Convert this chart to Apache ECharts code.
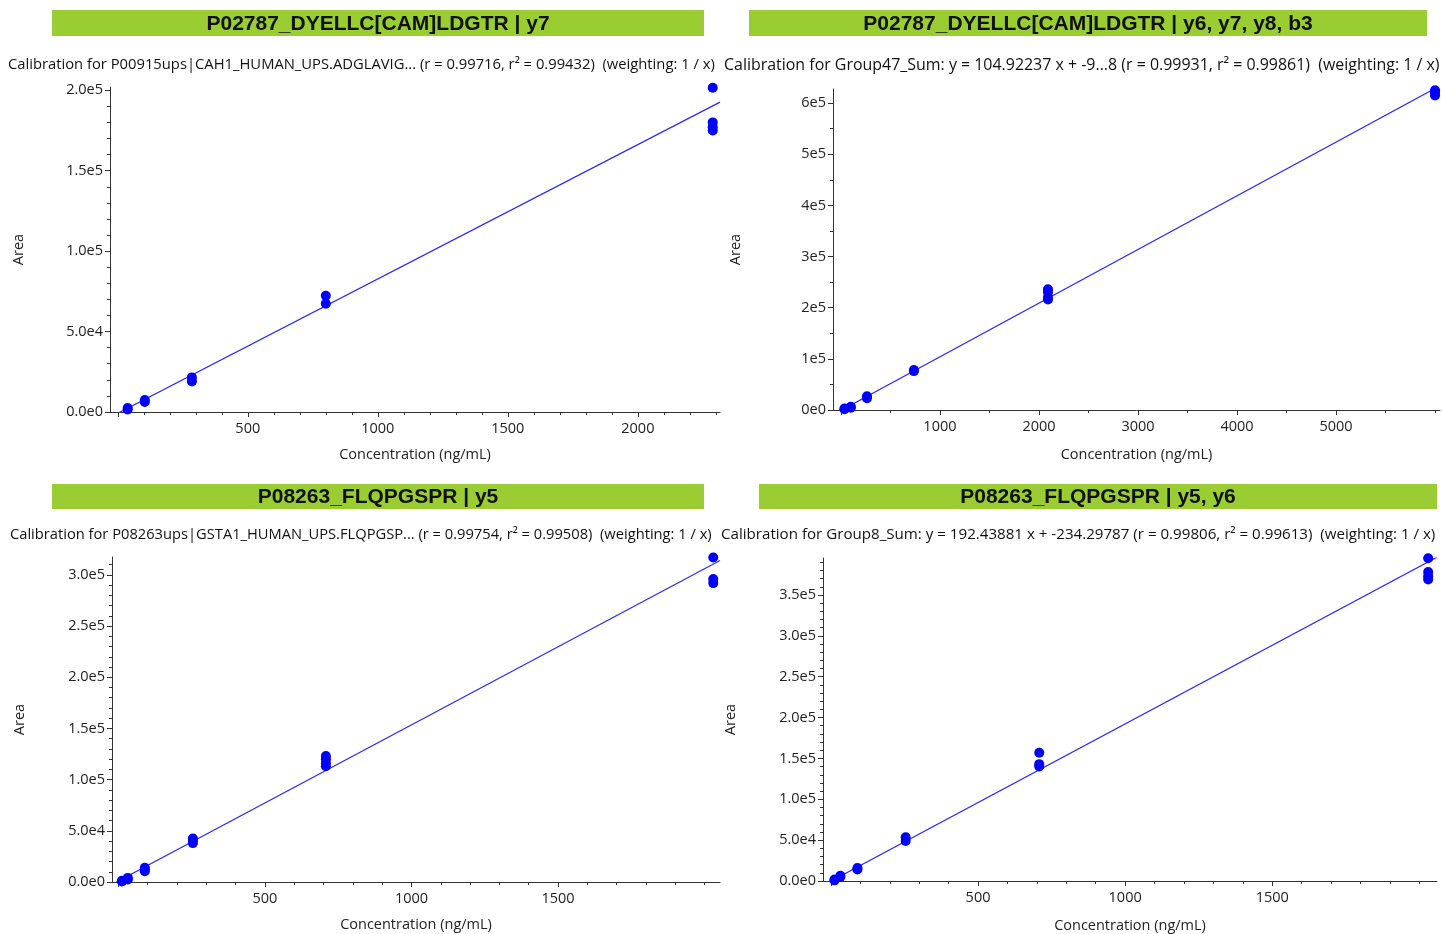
<!DOCTYPE html>
<html><head><meta charset="utf-8">
<script src="https://cdn.jsdelivr.net/npm/echarts@6/dist/echarts.min.js"></script>
<style>html,body{margin:0;padding:0;background:#fff}#c{width:1442px;height:934px}</style>
</head><body><div id="c"></div><script>
// ---------- Panel 1 ----------
const p1Title = 'P02787_DYELLC[CAM]LDGTR | y7';
const p1Sub = 'Calibration for P00915ups|CAH1_HUMAN_UPS.ADGLAVIG... (r = 0.99716, r\u00B2 = 0.99432)  (weighting: 1 / x)';
const p1Conc = [38, 38, 104, 104, 285, 285, 800, 800, 2288, 2288, 2288, 2288];
const p1Area = [1500, 2500, 6200, 7500, 19000, 21500, 67300, 72300, 175000, 177000, 180000, 201500];
const p1Slope = 83.5, p1Intercept = -800;
const p1XTicks = [500, 1000, 1500, 2000];
const p1YTicks = [0, 50000, 100000, 150000, 200000];
const p1YLabels = ['0.0e0', '5.0e4', '1.0e5', '1.5e5', '2.0e5'];

// ---------- Panel 2 ----------
const p2Title = 'P02787_DYELLC[CAM]LDGTR | y6, y7, y8, b3';
const p2Sub = 'Calibration for Group47_Sum: y = 104.92237 x + -9...8 (r = 0.99931, r\u00B2 = 0.99861)  (weighting: 1 / x)';
const p2Conc = [36, 36, 100, 100, 263, 263, 737, 737, 2091, 2091, 2091, 2091, 6000, 6000, 6000];
const p2Area = [1500, 3000, 4500, 6500, 23000, 27000, 76000, 78000, 216000, 220000, 230000, 236000, 615000, 620000, 625000];
const p2Slope = 104.92237, p2Intercept = -950;
const p2XTicks = [1000, 2000, 3000, 4000, 5000];
const p2YTicks = [0, 100000, 200000, 300000, 400000, 500000, 600000];
const p2YLabels = ['0e0', '1e5', '2e5', '3e5', '4e5', '5e5', '6e5'];

// ---------- Panel 3 ----------
const p3Title = 'P08263_FLQPGSPR | y5';
const p3Sub = 'Calibration for P08263ups|GSTA1_HUMAN_UPS.FLQPGSP... (r = 0.99754, r\u00B2 = 0.99508)  (weighting: 1 / x)';
const p3Conc = [12, 12, 32, 32, 90, 90, 90, 254, 254, 254, 708, 708, 708, 708, 2030, 2030, 2030];
const p3Area = [500, 1200, 2500, 4000, 10500, 12000, 14000, 38000, 40000, 42500, 113000, 116000, 120000, 123000, 292000, 296000, 317000];
const p3Slope = 152.5, p3Intercept = 1000;
const p3XTicks = [500, 1000, 1500];
const p3YTicks = [0, 50000, 100000, 150000, 200000, 250000, 300000];
const p3YLabels = ['0.0e0', '5.0e4', '1.0e5', '1.5e5', '2.0e5', '2.5e5', '3.0e5'];

// ---------- Panel 4 ----------
const p4Title = 'P08263_FLQPGSPR | y5, y6';
const p4Sub = 'Calibration for Group8_Sum: y = 192.43881 x + -234.29787 (r = 0.99806, r\u00B2 = 0.99613)  (weighting: 1 / x)';
const p4Conc = [12, 12, 32, 32, 90, 90, 254, 254, 708, 708, 708, 2030, 2030, 2030, 2030];
const p4Area = [800, 1800, 5000, 6500, 14000, 16000, 49000, 53500, 140000, 143000, 157000, 369000, 373000, 378000, 395000];
const p4Slope = 192.43881, p4Intercept = -234.29787;
const p4XTicks = [500, 1000, 1500];
const p4YTicks = [0, 50000, 100000, 150000, 200000, 250000, 300000, 350000];
const p4YLabels = ['0.0e0', '5.0e4', '1.0e5', '1.5e5', '2.0e5', '2.5e5', '3.0e5', '3.5e5'];

const xName = 'Concentration (ng/mL)';
const yName = 'Area';

// ---------- layout (pixels / axis extents) ----------
const panels = [
  {title: p1Title, sub: p1Sub, conc: p1Conc, area: p1Area, slope: p1Slope, icpt: p1Intercept,
   xt: p1XTicks, yt: p1YTicks, yl: p1YLabels, xr: [-30, 2316], yr: [0, 202000], xMinor: 100, yMinor: 10000,
   grid: {left: 110, top: 87, width: 610, height: 325}, bar: [52, 10, 652, 26], subPos: [8, 65], subW: 707, yGap: 84, xGap: 35},
  {title: p2Title, sub: p2Sub, conc: p2Conc, area: p2Area, slope: p2Slope, icpt: p2Intercept,
   xt: p2XTicks, yt: p2YTicks, yl: p2YLabels, xr: [-80, 6050], yr: [0, 627500], xMinor: 500, yMinor: 50000,
   grid: {left: 833, top: 89, width: 607, height: 321}, bar: [749, 10, 678, 26], subPos: [724, 65], subW: 716, yGap: 90, xGap: 37},
  {title: p3Title, sub: p3Sub, conc: p3Conc, area: p3Area, slope: p3Slope, icpt: p3Intercept,
   xt: p3XTicks, yt: p3YTicks, yl: p3YLabels, xr: [-22, 2053], yr: [0, 317500], xMinor: 100, yMinor: 10000,
   grid: {left: 112, top: 557, width: 608, height: 325}, bar: [52, 484, 652, 25], subPos: [10, 535], subW: 702, yGap: 85, xGap: 35},
  {title: p4Title, sub: p4Sub, conc: p4Conc, area: p4Area, slope: p4Slope, icpt: p4Intercept,
   xt: p4XTicks, yt: p4YTicks, yl: p4YLabels, xr: [-27, 2060], yr: [0, 395200], xMinor: 100, yMinor: 10000,
   grid: {left: 823, top: 558, width: 614, height: 326}, bar: [759, 484, 678, 25], subPos: [721, 535], subW: 715, yGap: 85, xGap: 37}
];

function minorTicks(range, step) {
  const out = [];
  for (let v = Math.ceil(range[0] / step) * step; v <= range[1]; v += step) out.push(v);
  return out;
}

const FONT = '"Open Sans", "Noto Sans", sans-serif';
const FS = 14.5;
const axisColor = '#333';
const measureCtx = document.createElement('canvas').getContext('2d');
function fitFont(text, width) {
  measureCtx.font = '100px ' + FONT;
  const w = measureCtx.measureText(text).width;
  return Math.min(16, Math.max(12, 100 * width / w));
}
const grids = [], xAxes = [], yAxes = [], series = [], graphics = [];

panels.forEach((p, i) => {
  grids.push(Object.assign({containLabel: false}, p.grid));
  const xMajor = [0].concat(p.xt);
  xAxes.push({
    type: 'value', gridIndex: i, min: p.xr[0], max: p.xr[1], position: 'bottom',
    axisLine: {onZero: false, lineStyle: {color: axisColor, width: 1}},
    axisTick: {show: true, customValues: xMajor, length: 5, lineStyle: {color: axisColor}},
    axisLabel: {customValues: p.xt, color: '#222', fontFamily: FONT, fontSize: FS, margin: 9,
      formatter: (v) => String(v)},
    splitLine: {show: false},
    name: xName, nameLocation: 'middle', nameGap: p.xGap,
    nameTextStyle: {color: '#222', fontFamily: FONT, fontSize: FS}
  });
  xAxes.push({
    type: 'value', gridIndex: i, min: p.xr[0], max: p.xr[1], position: 'bottom',
    axisLine: {show: false, onZero: false},
    axisTick: {show: true, customValues: minorTicks(p.xr, p.xMinor), length: 3, lineStyle: {color: axisColor}},
    axisLabel: {show: false}, splitLine: {show: false}
  });
  yAxes.push({
    type: 'value', gridIndex: i, min: p.yr[0], max: p.yr[1], position: 'left',
    axisLine: {show: true, onZero: false, lineStyle: {color: axisColor, width: 1}},
    axisTick: {show: true, customValues: p.yt, length: 5, lineStyle: {color: axisColor}},
    axisLabel: {customValues: p.yt, color: '#222', fontFamily: FONT, fontSize: FS, margin: 7,
      formatter: (v) => { const k = p.yt.indexOf(v); return k >= 0 ? p.yl[k] : ''; }},
    splitLine: {show: false},
    name: yName, nameLocation: 'middle', nameGap: p.yGap, nameRotate: 90,
    nameTextStyle: {color: '#222', fontFamily: FONT, fontSize: FS}
  });
  yAxes.push({
    type: 'value', gridIndex: i, min: p.yr[0], max: p.yr[1], position: 'left',
    axisLine: {show: false, onZero: false},
    axisTick: {show: true, customValues: minorTicks(p.yr, p.yMinor), length: 3, lineStyle: {color: axisColor}},
    axisLabel: {show: false}, splitLine: {show: false}
  });
  const xi = i * 2, yi = i * 2;
  series.push({
    type: 'line', xAxisIndex: xi, yAxisIndex: yi, showSymbol: false, symbol: 'none', clip: true,
    lineStyle: {color: '#2a2aff', width: 1.2}, silent: true, z: 2,
    data: [[p.xr[0], p.slope * p.xr[0] + p.icpt], [p.xr[1], p.slope * p.xr[1] + p.icpt]]
  });
  series.push({
    type: 'scatter', xAxisIndex: xi, yAxisIndex: yi, symbol: 'circle', symbolSize: 10, clip: false,
    itemStyle: {color: '#0000ff', opacity: 1}, z: 3,
    data: p.conc.map((c, k) => [c, p.area[k]])
  });
  graphics.push({
    type: 'rect', shape: {x: p.bar[0], y: p.bar[1], width: p.bar[2], height: p.bar[3]},
    style: {fill: '#9acd32'}, silent: true
  });
  graphics.push({
    type: 'text', x: p.bar[0] + p.bar[2] / 2, y: p.bar[1] + p.bar[3] / 2 + 1,
    style: {text: p.title, fill: '#111', font: 'bold 21px "Liberation Sans", Arial, sans-serif',
      align: 'center', verticalAlign: 'middle'}
  });
  graphics.push({
    type: 'text', x: p.subPos[0], y: p.subPos[1],
    style: {text: p.sub, fill: '#111', font: fitFont(p.sub, p.subW).toFixed(2) + 'px ' + FONT,
      align: 'left', verticalAlign: 'middle'}
  });
});

const chart = echarts.init(document.getElementById('c'), null, {renderer: 'canvas'});
chart.setOption({
  backgroundColor: '#fff',
  animation: false,
  grid: grids, xAxis: xAxes, yAxis: yAxes, series: series, graphic: graphics
});
</script></body></html>
